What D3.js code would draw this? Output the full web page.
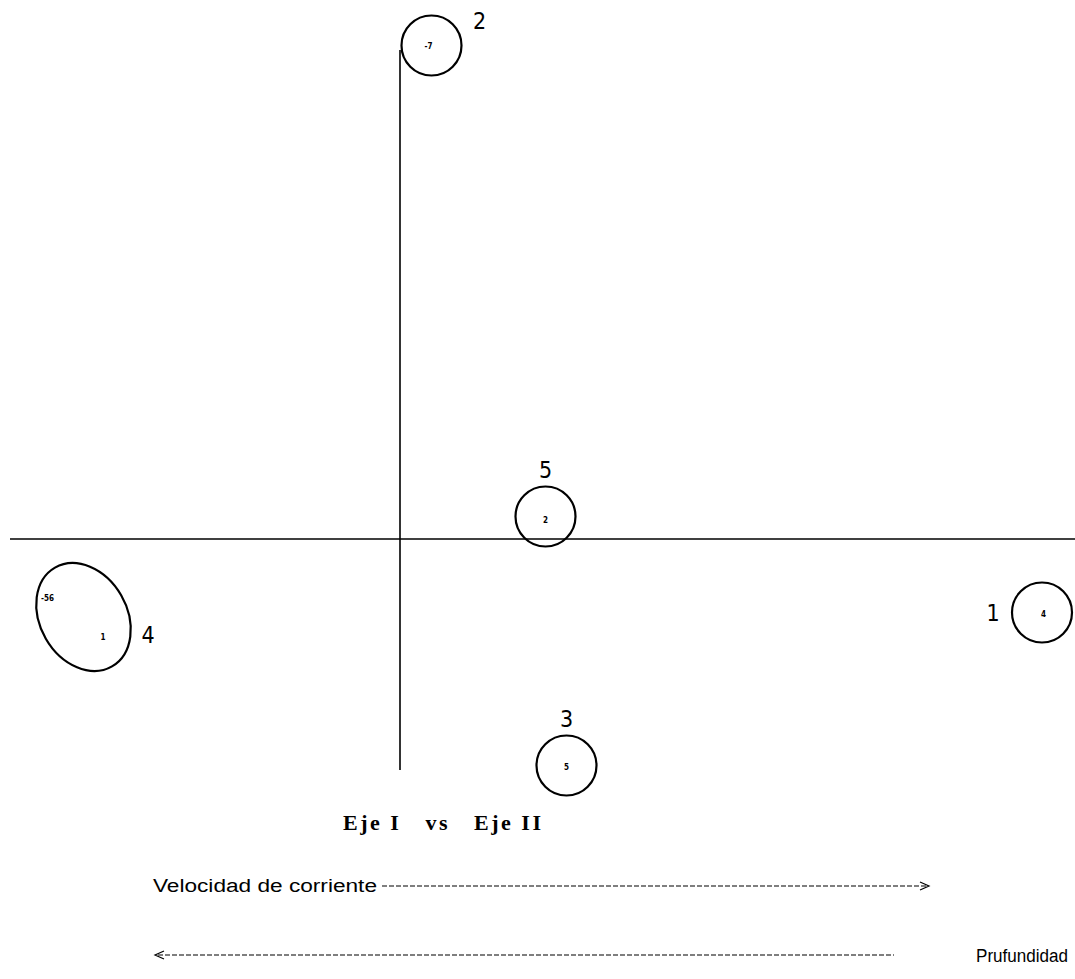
<!DOCTYPE html>
<html>
<head>
<meta charset="utf-8">
<script src="https://cdn.jsdelivr.net/npm/d3@7"></script>
<style>
  html, body { margin: 0; padding: 0; background: #fff; }
  svg { display: block; }
</style>
</head>
<body>
<svg id="chart" width="1075" height="979"></svg>
<script>
// Cluster groups on the ordination plane (Eje I vs Eje II)
const clusterNames = ["1", "2", "3", "4", "5"];
const clusterEjeI  = [4.28, 0.21, 1.11, -2.11, 0.97];
const clusterEjeII = [-0.49, 3.29, -1.51, -0.52, 0.15];
const clusterRadI  = [0.20, 0.20, 0.20, 0.29, 0.20];
const clusterRadII = [0.20, 0.20, 0.20, 0.38, 0.20];
const clusterTilt  = [0, 0, 0, -30, 0];

// Values written inside each group
const pointLabels = ["4", "-7", "5", "-56", "1", "2"];
const pointEjeI   = [4.29, 0.19, 1.11, -2.35, -1.98, 0.97];
const pointEjeII  = [-0.50, 3.29, -1.52, -0.39, -0.65, 0.13];

// Axis extents
const ejeIDomain  = [-2.6, 4.5];
const ejeIIDomain = [-1.54, 3.26];

const title = "Eje I   vs   Eje II";
const gradientTop = "Velocidad de corriente";
const gradientBottom = "Prufundidad";

const svg = d3.select("#chart");

// Same scale (150 px per unit) on both axes, origin at (400, 539)
const x = d3.scaleLinear().domain(ejeIDomain).range([10, 1075]);
const y = d3.scaleLinear().domain([0, 1]).range([539, 389]);
const kx = x(1) - x(0);
const ky = y(0) - y(1);

// Axes through the origin
svg.append("line")
  .attr("x1", x(ejeIDomain[0])).attr("x2", x(ejeIDomain[1]))
  .attr("y1", y(0)).attr("y2", y(0))
  .attr("stroke", "#000").attr("stroke-width", 1.6);
svg.append("line")
  .attr("x1", x(0)).attr("x2", x(0))
  .attr("y1", y(ejeIIDomain[1])).attr("y2", y(ejeIIDomain[0]))
  .attr("stroke", "#000").attr("stroke-width", 1.6);

// Group outlines
const groups = clusterNames.map((n, i) => ({
  name: n, cx: clusterEjeI[i], cy: clusterEjeII[i],
  rx: clusterRadI[i], ry: clusterRadII[i], tilt: clusterTilt[i]
}));

svg.selectAll("ellipse.group")
  .data(groups)
  .join("ellipse")
  .attr("class", "group")
  .attr("transform", d => `translate(${x(d.cx)},${y(d.cy)}) rotate(${d.tilt})`)
  .attr("rx", d => d.rx * kx)
  .attr("ry", d => d.ry * ky)
  .attr("fill", "none")
  .attr("stroke", "#000")
  .attr("stroke-width", 2.2);

// Group number placement around the outline
const side = { "1": "left", "2": "right", "3": "top", "4": "right", "5": "top" };
svg.selectAll("text.gname")
  .data(groups)
  .join("text")
  .attr("class", "gname")
  .attr("x", d => {
    const s = side[d.name];
    if (s === "left") return x(d.cx) - d.rx * kx - 19;
    if (s === "right") return x(d.cx) + d.rx * kx + (d.tilt ? 21 : 18);
    return x(d.cx);
  })
  .attr("y", d => {
    const s = side[d.name];
    if (s === "top") return y(d.cy) - d.ry * ky - 9;
    if (d.name === "2") return y(d.cy) - 17;
    return y(d.cy) + (d.tilt ? 26 : 8);
  })
  .attr("text-anchor", "middle")
  .attr("font-family", "'Liberation Sans Narrow', 'DejaVu Sans Condensed', 'Liberation Sans', sans-serif")
  .attr("font-size", 23)
  .attr("fill", "#000")
  .text(d => d.name);

// Values inside the groups
svg.selectAll("text.pval")
  .data(pointLabels.map((t, i) => ({ t, px: pointEjeI[i], py: pointEjeII[i] })))
  .join("text")
  .attr("class", "pval")
  .attr("x", d => x(d.px))
  .attr("y", d => y(d.py) + 3)
  .attr("text-anchor", "middle")
  .attr("font-family", "'DejaVu Sans Condensed', 'Liberation Sans', sans-serif")
  .attr("font-weight", "bold")
  .attr("font-size", 8)
  .attr("fill", "#000")
  .text(d => d.t);

// Title
svg.append("text")
  .attr("x", 343).attr("y", 830)
  .attr("font-family", "'Liberation Serif', 'DejaVu Serif', serif")
  .attr("font-weight", "bold")
  .attr("font-size", 22)
  .attr("textLength", 198)
  .attr("lengthAdjust", "spacing")
  .style("white-space", "pre")
  .text(title);

// Environmental gradients
const sans = "'Liberation Sans', Arial, sans-serif";
svg.append("text")
  .attr("x", 153).attr("y", 892)
  .attr("font-family", sans).attr("font-size", 18)
  .attr("textLength", 224)
  .attr("lengthAdjust", "spacingAndGlyphs")
  .text(gradientTop);
svg.append("line")
  .attr("x1", 382).attr("x2", 926).attr("y1", 886).attr("y2", 886)
  .attr("stroke", "#000").attr("stroke-width", 1.2)
  .attr("stroke-dasharray", "5,2");
svg.append("path")
  .attr("d", "M920,882 L929,886 L920,890")
  .attr("fill", "none").attr("stroke", "#000").attr("stroke-width", 1.2);

svg.append("line")
  .attr("x1", 158).attr("x2", 894).attr("y1", 955).attr("y2", 955)
  .attr("stroke", "#000").attr("stroke-width", 1.2)
  .attr("stroke-dasharray", "5,2");
svg.append("path")
  .attr("d", "M164,951 L155,955 L164,959")
  .attr("fill", "none").attr("stroke", "#000").attr("stroke-width", 1.2);
svg.append("text")
  .attr("x", 976).attr("y", 962)
  .attr("font-family", sans).attr("font-size", 18)
  .attr("textLength", 92)
  .attr("lengthAdjust", "spacingAndGlyphs")
  .text(gradientBottom);
</script>
</body>
</html>
